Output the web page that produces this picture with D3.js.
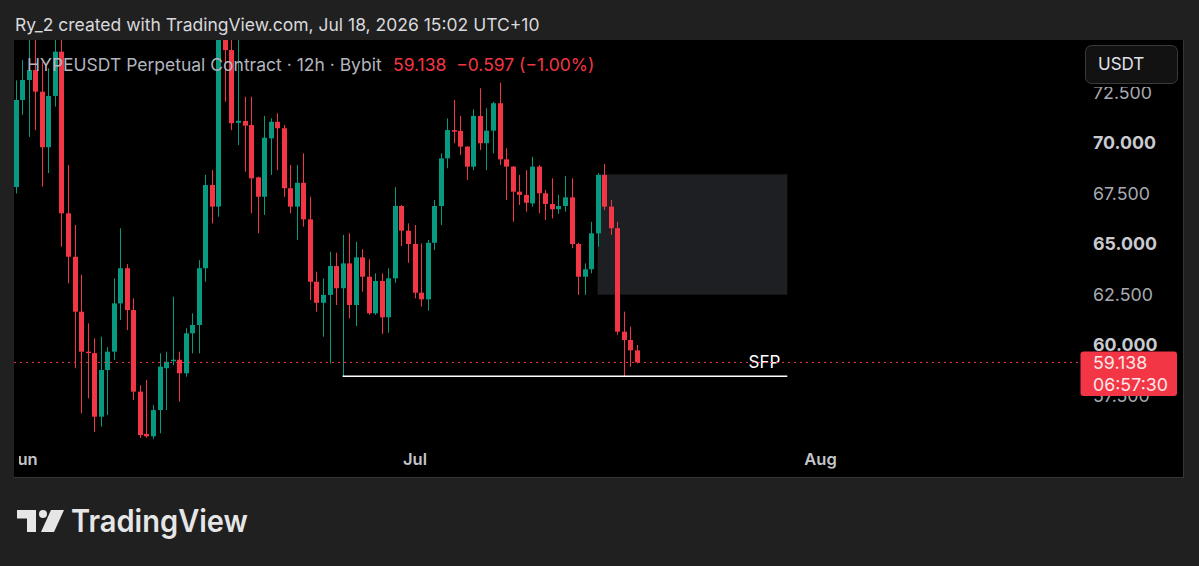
<!DOCTYPE html>
<html>
<head>
<meta charset="utf-8">
<script src="https://cdn.jsdelivr.net/npm/d3@7"></script>
<style>
  html, body { margin: 0; padding: 0; background: #202020; }
  svg { display: block; font-family: Inter, "Noto Sans", sans-serif; }
</style>
</head>
<body>
<svg id="chart" width="1199" height="566"></svg>
<script>
// 12h candles, first one opens May 31 12:00 UTC
const firstBar = new Date(Date.UTC(2026, 4, 31, 12));
const open  = [67.82,72.13,73.12,73.61,72.54,69.79,72.33,74.52,66.52,64.37,61.65,59.67,59.60,56.45,58.76,59.67,62.06,63.80,61.73,57.69,
               55.60,55.48,56.78,58.85,59.20,59.27,58.60,60.58,60.99,63.80,67.92,66.85,76.00,74.60,71.00,71.09,70.89,68.30,67.34,70.23,
               71.05,70.73,67.76,66.85,68.03,66.22,63.13,62.09,62.48,63.91,62.81,64.04,61.98,64.34,63.38,61.57,63.17,61.37,63.30,66.88,
               65.66,65.00,62.59,62.26,65.06,66.88,69.24,70.64,70.60,69.82,68.83,71.34,69.99,70.61,71.97,69.19,68.83,67.59,67.43,67.01,
               68.83,67.51,66.98,66.72,66.88,67.31,65.00,63.38,63.75,65.53,68.42,66.85,65.78,60.66,60.25,59.735];
const high  = [73.10,74.10,75.50,75.50,74.00,73.70,75.60,75.80,68.91,65.94,63.47,61.07,60.33,60.41,59.90,63.30,65.78,64.00,62.31,58.00,
               58.27,57.03,59.59,59.67,62.39,59.67,60.83,61.57,64.20,68.42,68.66,76.50,76.40,75.40,75.30,72.29,72.29,68.33,71.34,71.22,
               71.47,70.89,68.91,68.91,69.49,67.34,63.63,63.30,64.62,64.57,65.45,65.53,65.11,64.74,64.24,63.55,63.55,63.80,67.81,66.93,
               66.02,65.94,65.03,65.20,67.18,69.49,71.22,72.13,71.34,69.85,71.67,72.71,71.72,72.04,72.99,69.74,68.86,68.42,68.66,69.32,
               68.91,67.67,68.25,67.43,68.37,68.25,65.06,64.04,66.10,68.50,68.96,67.18,66.10,61.65,60.91,60.00];
const low   = [67.50,71.39,70.30,70.64,67.84,68.51,71.80,64.87,63.05,58.85,56.62,57.36,55.70,55.96,56.53,59.26,61.24,60.74,57.28,55.40,
               55.40,55.35,55.63,56.78,59.00,57.19,58.43,59.59,59.59,63.13,66.02,66.35,72.04,70.64,69.90,68.58,66.52,65.53,66.44,68.42,
               68.66,67.34,66.52,65.20,65.86,62.23,61.65,60.41,59.09,61.98,58.45,61.32,60.94,62.64,61.49,61.49,60.54,60.61,63.08,64.90,
               64.07,62.31,61.90,61.70,64.70,65.94,68.75,69.99,69.41,68.17,68.66,69.65,68.66,69.49,68.91,67.18,66.10,66.93,66.60,66.85,
               66.52,66.19,66.27,66.49,66.60,64.79,62.48,62.48,63.55,64.87,66.68,65.45,60.50,58.45,58.93,59.09];
const close = [72.13,73.12,73.61,72.54,69.79,72.33,74.52,66.52,64.37,61.65,59.67,59.60,56.45,58.76,59.67,62.06,63.80,61.73,57.69,55.54,
               55.48,56.78,58.93,59.17,59.27,58.60,60.58,60.99,63.80,67.92,66.85,76.00,74.60,70.98,71.10,70.86,68.25,67.34,70.26,71.05,
               70.73,67.76,66.85,68.03,66.22,63.13,62.09,62.48,63.91,62.81,64.04,61.98,64.34,63.38,61.57,63.17,61.37,63.30,66.88,65.66,
               65.00,62.59,62.26,65.06,66.88,69.24,70.64,70.56,69.82,68.83,71.34,69.99,70.61,71.97,69.19,68.83,67.59,67.43,67.04,68.83,
               67.51,66.98,66.72,66.88,67.31,65.00,63.38,63.75,65.53,68.42,66.85,65.78,60.66,60.25,59.735,59.138];

const priceTicks = [57.5, 60, 62.5, 65, 67.5, 70, 72.5];
const monthTicks = [new Date(Date.UTC(2026, 5, 1)), new Date(Date.UTC(2026, 6, 1)), new Date(Date.UTC(2026, 7, 1))];
const lastPrice = 59.138;
const countdown = "06:57:30";
const legendText = "HYPEUSDT Perpetual Contract · 12h · Bybit";
const legendValue = "59.138  \u22120.597 (\u22121.00%)";
const headerText = "Ry_2 created with TradingView.com, Jul 18, 2026 15:02 UTC+10";

// drawings
const sfpLevel = 58.45;
const sfpStart = new Date(Date.UTC(2026, 5, 25, 12));
const drawEnd = new Date(Date.UTC(2026, 6, 29, 12));
const boxStart = new Date(Date.UTC(2026, 6, 15, 0));
const boxTop = 68.45, boxBottom = 62.49;

const bars = open.map((o, i) => ({
  t: d3.utcHour.offset(firstBar, 12 * i), o, h: high[i], l: low[i], c: close[i]
}));

const up = "#089981", down = "#f23645";

const svg = d3.select("#chart");
const x = d3.scaleUtc().domain([monthTicks[0], monthTicks[2]]).range([22.2, 820]);
const y = d3.scaleLinear().domain([57.5, 72.5]).range([395.5, 92.5]);

// background + pane
svg.append("rect").attr("width", 1199).attr("height", 566).attr("fill", "#202020");
svg.append("rect").attr("x", 14).attr("y", 40).attr("width", 1169).attr("height", 437).attr("fill", "#000");
svg.append("line").attr("x1", 1183.5).attr("x2", 1183.5).attr("y1", 40).attr("y2", 478).attr("stroke", "#353535");
svg.append("line").attr("x1", 14).attr("x2", 1184).attr("y1", 477.5).attr("y2", 477.5).attr("stroke", "#353535");

const defs = svg.append("defs");
defs.append("clipPath").attr("id", "pane").append("rect")
  .attr("x", 14).attr("y", 40).attr("width", 1061).attr("height", 437);

const pane = svg.append("g").attr("clip-path", "url(#pane)");

// grey zone box
pane.append("rect")
  .attr("x", x(boxStart)).attr("y", y(boxTop))
  .attr("width", x(drawEnd) - x(boxStart)).attr("height", y(boxBottom) - y(boxTop))
  .attr("fill", "#1e1f22");

// last price dotted line
svg.append("line")
  .attr("x1", 14).attr("x2", 1080).attr("y1", y(lastPrice)).attr("y2", y(lastPrice))
  .attr("stroke", down).attr("stroke-width", 1).attr("stroke-dasharray", "2,4");

// candles
const candle = pane.append("g").selectAll("g").data(bars).enter().append("g");
candle.append("line")
  .attr("x1", d => Math.round(x(d.t)) + 0.5).attr("x2", d => Math.round(x(d.t)) + 0.5)
  .attr("y1", d => y(d.h)).attr("y2", d => y(d.l))
  .attr("stroke", d => d.c >= d.o ? up : down).attr("stroke-width", 1);
candle.append("rect")
  .attr("x", d => Math.round(x(d.t)) + 0.5 - 2.5).attr("width", 5)
  .attr("y", d => y(Math.max(d.o, d.c)))
  .attr("height", d => Math.max(1.2, Math.abs(y(d.o) - y(d.c))))
  .attr("fill", d => d.c >= d.o ? up : down);

// SFP line
pane.append("line")
  .attr("x1", x(sfpStart)).attr("x2", x(drawEnd)).attr("y1", y(sfpLevel)).attr("y2", y(sfpLevel))
  .attr("stroke", "#ffffff").attr("stroke-width", 1.5);
pane.append("text")
  .attr("x", x(drawEnd) - 7).attr("y", y(sfpLevel) - 8)
  .attr("text-anchor", "end").attr("font-size", 17).attr("fill", "#ffffff")
  .text("SFP");

// legend
const legend = svg.append("text").attr("x", 27).attr("y", 65).attr("dy", "0.35em")
  .attr("font-size", 17.5).attr("fill", "#b2b5be");
legend.append("tspan").text(legendText);
legend.append("tspan").attr("x", 393).attr("fill", down).attr("xml:space", "preserve").text(legendValue);

// price axis
const yAxis = svg.append("g").attr("transform", "translate(1093,0)")
  .call(d3.axisRight(y).tickValues(priceTicks).tickSize(0).tickPadding(0).tickFormat(d3.format(".3f")));
yAxis.select(".domain").remove();
yAxis.selectAll("text")
  .attr("font-family", "Inter, 'Noto Sans', sans-serif").attr("font-size", 17.8)
  .attr("font-weight", d => d % 5 === 0 ? 700 : 400)
  .attr("fill", d => d % 5 === 0 ? "#c9cbd1" : "#a7aab1");

// USDT button (covers top of the 72.500 label)
svg.append("rect").attr("x", 1078).attr("y", 40).attr("width", 105).attr("height", 47).attr("fill", "#000");
svg.append("rect").attr("x", 1085.5).attr("y", 45.5).attr("width", 92).attr("height", 38).attr("rx", 6)
  .attr("fill", "#121212").attr("stroke", "#3a3a3a");
svg.append("text").attr("x", 1098).attr("y", 64).attr("dy", "0.35em")
  .attr("font-size", 17).attr("fill", "#e0e3eb").text("USDT");

// last price label
svg.append("rect").attr("x", 1080.5).attr("y", 351.5).attr("width", 96.5).attr("height", 44.5).attr("rx", 3)
  .attr("fill", down);
svg.append("text").attr("x", 1093).attr("y", 363).attr("dy", "0.35em")
  .attr("font-size", 17.8).attr("fill", "#fde6e8").text(d3.format(".3f")(lastPrice));
svg.append("text").attr("x", 1093).attr("y", 385).attr("dy", "0.35em")
  .attr("font-size", 17.8).attr("fill", "#fde6e8").text(countdown);

// time axis (first month label is cut by the pane edge)
defs.append("clipPath").attr("id", "taxis").append("rect")
  .attr("x", 19).attr("y", 440).attr("width", 1056).attr("height", 37);
const xAxis = svg.append("g").attr("clip-path", "url(#taxis)")
  .append("g").attr("transform", "translate(0,453)")
  .call(d3.axisBottom(x).tickValues(monthTicks).tickSize(0).tickPadding(0).tickFormat(d3.utcFormat("%b")));
xAxis.select(".domain").remove();
xAxis.selectAll("text")
  .attr("font-family", "Inter, 'Noto Sans', sans-serif").attr("font-size", 16.5)
  .attr("font-weight", 600).attr("fill", "#c3c5cb");

// header
svg.append("text").attr("x", 15).attr("y", 25).attr("dy", "0.35em")
  .attr("font-size", 17.5).attr("fill", "#d8d9dc").text(headerText);

// TradingView logo
const logo = svg.append("g").attr("fill", "#e6e6e6");
logo.append("path").attr("d", "M17 510 H36 V532 H27 V518.5 H17 Z");
logo.append("circle").attr("cx", 43).attr("cy", 514).attr("r", 4);
logo.append("path").attr("d", "M51 510 H64 L54 532 H41 Z");
logo.append("text").attr("x", 71).attr("y", 532)
  .attr("font-size", 31).attr("font-weight", 600)
  .attr("textLength", 177).attr("lengthAdjust", "spacingAndGlyphs")
  .text("TradingView");
</script>
</body>
</html>
